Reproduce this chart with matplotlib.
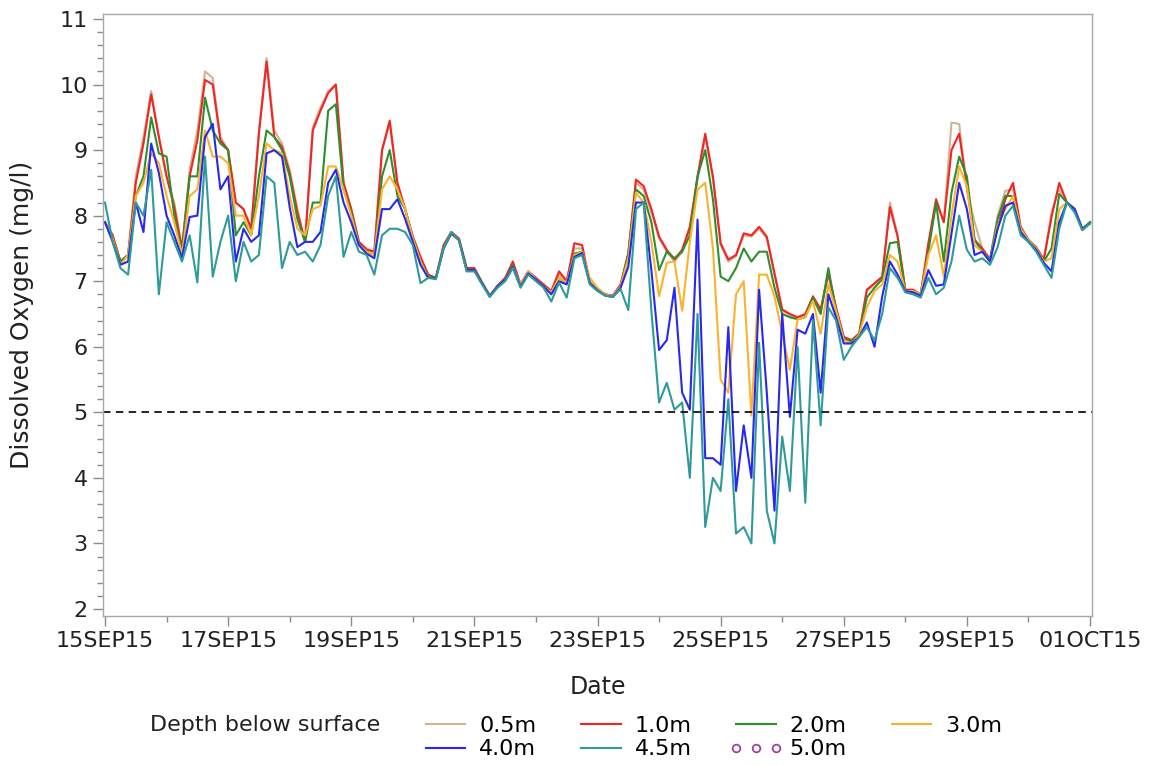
import numpy as np
import pandas as pd
import matplotlib
matplotlib.use('Agg')
import matplotlib.pyplot as plt
import matplotlib.dates as mdates
from matplotlib.ticker import MultipleLocator, FuncFormatter, FixedLocator

plt.rcParams['font.family'] = ['DejaVu Sans']

# readings every 3 hours, 15SEP15 00:00 -> 01OCT15 00:00
start = '2015-09-15 00:00'
n_points = 129

# one row per day (8 readings), last value = 01OCT15 00:00
do_05 = [
    7.9, 7.7, 7.3, 7.4, 8.6, 9.2, 9.9, 9.2,
    8.6, 8.2, 7.5, 8.7, 9.3, 10.2, 10.1, 9.2,
    9.0, 8.2, 8.1, 7.8, 9.3, 10.4, 9.3, 9.1,
    8.7, 8.1, 7.6, 9.35, 9.65, 9.9, 10.0, 8.5,
    8.1, 7.6, 7.5, 7.45, 9.0, 9.4, 8.5, 8.1,
    7.68, 7.35, 7.1, 7.05, 7.55, 7.75, 7.65, 7.2,
    7.2, 6.98, 6.78, 6.93, 7.05, 7.28, 6.95, 7.15,
    7.03, 6.93, 6.85, 7.1, 7.0, 7.5, 7.5, 6.98,
    6.87, 6.8, 6.77, 6.93, 7.4, 8.5, 8.4, 8.05,
    7.65, 7.45, 7.3, 7.45, 7.8, 8.55, 9.2, 8.55,
    7.55, 7.3, 7.38, 7.7, 7.68, 7.8, 7.65, 7.1,
    6.55, 6.48, 6.43, 6.48, 6.75, 6.55, 7.1, 6.58,
    6.15, 6.1, 6.2, 6.85, 6.95, 7.05, 8.2, 7.7,
    6.87, 6.85, 6.8, 7.55, 8.2, 7.9, 9.42, 9.4,
    8.4, 7.9, 7.5, 7.33, 8.0, 8.38, 8.4, 7.8,
    7.63, 7.5, 7.33, 8.05, 8.4, 8.2, 8.1, 7.78,
    7.9,
]
do_10 = [
    7.9, 7.7, 7.3, 7.4, 8.5, 9.1, 9.85, 9.2,
    8.6, 8.13, 7.5, 8.6, 9.15, 10.07, 10.0, 9.15,
    9.0, 8.2, 8.1, 7.8, 9.25, 10.35, 9.2, 9.05,
    8.65, 8.05, 7.6, 9.3, 9.6, 9.87, 10.0, 8.5,
    8.1, 7.6, 7.48, 7.45, 9.0, 9.45, 8.5, 8.1,
    7.68, 7.37, 7.1, 7.05, 7.55, 7.75, 7.65, 7.2,
    7.2, 6.98, 6.78, 6.93, 7.05, 7.3, 6.95, 7.15,
    7.05, 6.95, 6.85, 7.15, 7.0, 7.58, 7.55, 6.98,
    6.87, 6.8, 6.78, 6.95, 7.43, 8.55, 8.45, 8.1,
    7.68, 7.48, 7.33, 7.48, 7.83, 8.6, 9.25, 8.6,
    7.58, 7.33, 7.4, 7.73, 7.7, 7.83, 7.68, 7.12,
    6.57, 6.5, 6.45, 6.5, 6.77, 6.57, 7.12, 6.6,
    6.15, 6.1, 6.2, 6.87, 6.97, 7.07, 8.13, 7.68,
    6.87, 6.87, 6.8, 7.58, 8.25, 7.9, 9.0, 9.25,
    8.45, 7.63, 7.5, 7.33, 7.83, 8.25, 8.5, 7.83,
    7.63, 7.52, 7.33, 7.98, 8.5, 8.2, 8.1, 7.78,
    7.9,
]
do_20 = [
    7.9, 7.65, 7.3, 7.4, 8.3, 8.6, 9.5, 8.95,
    8.9, 8.0, 7.45, 8.6, 8.6, 9.8, 9.3, 9.1,
    9.0, 7.7, 7.9, 7.7, 8.6, 9.3, 9.2, 9.0,
    8.6, 7.95, 7.6, 8.2, 8.2, 9.6, 9.7, 8.4,
    8.05, 7.55, 7.45, 7.4, 8.6, 9.0, 8.3, 8.1,
    7.65, 7.3, 7.08, 7.05, 7.52, 7.73, 7.63, 7.17,
    7.18, 6.97, 6.77, 6.92, 7.03, 7.25, 6.93, 7.13,
    7.02, 6.92, 6.83, 7.05, 6.97, 7.42, 7.45, 6.97,
    6.86, 6.8, 6.77, 6.92, 7.42, 8.4, 8.3, 7.9,
    7.17, 7.45, 7.35, 7.45, 7.7, 8.6, 9.0, 8.25,
    7.07, 7.0, 7.2, 7.5, 7.3, 7.45, 7.45, 6.9,
    6.5, 6.45, 6.42, 6.45, 6.75, 6.5, 7.2, 6.55,
    6.12, 6.08, 6.18, 6.75, 6.9, 7.03, 7.58, 7.6,
    6.85, 6.85, 6.8, 7.45, 8.2, 7.3, 8.35, 8.9,
    8.6, 7.63, 7.45, 7.33, 7.95, 8.3, 8.3, 7.8,
    7.62, 7.5, 7.3, 7.5, 8.33, 8.2, 8.1, 7.8,
    7.9,
]
do_30 = [
    7.9, 7.65, 7.25, 7.4, 8.3, 8.5, 8.95, 8.8,
    8.3, 7.9, 7.4, 8.3, 8.4, 9.3, 8.9, 8.9,
    8.8, 8.0, 8.0, 7.7, 8.3, 9.1, 9.0, 8.95,
    8.3, 7.8, 7.7, 8.1, 8.15, 8.75, 8.75, 8.4,
    8.0, 7.55, 7.45, 7.4, 8.4, 8.6, 8.4, 8.1,
    7.65, 7.3, 7.05, 7.05, 7.5, 7.72, 7.62, 7.15,
    7.17, 6.97, 6.77, 6.92, 7.02, 7.22, 6.95, 7.15,
    7.02, 6.92, 6.83, 7.05, 6.98, 7.4, 7.45, 7.05,
    6.9, 6.8, 6.77, 6.92, 7.35, 8.35, 8.2, 7.6,
    6.77, 7.28, 7.3, 6.55, 7.6, 8.4, 8.5, 7.5,
    5.5, 5.3, 6.8, 7.0, 4.95, 7.1, 7.1, 6.77,
    6.2, 5.65, 6.42, 6.45, 6.7, 6.2, 6.95, 6.55,
    6.1, 6.05, 6.18, 6.6, 6.85, 6.95, 7.4, 7.3,
    6.85, 6.85, 6.8, 7.4, 7.7, 7.07, 8.0, 8.75,
    8.45, 7.55, 7.45, 7.3, 7.85, 8.1, 8.3, 7.8,
    7.62, 7.5, 7.3, 7.35, 8.1, 8.2, 8.1, 7.8,
    7.88,
]
do_40 = [
    7.9, 7.6, 7.25, 7.3, 8.2, 7.75, 9.1, 8.65,
    8.0, 7.7, 7.35, 7.98, 8.0, 9.2, 9.4, 8.4,
    8.6, 7.3, 7.8, 7.6, 7.7, 8.95, 9.0, 8.9,
    8.13, 7.52, 7.6, 7.6, 7.75, 8.5, 8.7, 8.2,
    7.9, 7.55, 7.42, 7.35, 8.1, 8.1, 8.25, 7.95,
    7.6, 7.25, 7.05, 7.05, 7.5, 7.73, 7.63, 7.17,
    7.17, 6.97, 6.77, 6.92, 7.02, 7.22, 6.92, 7.12,
    7.02, 6.92, 6.8, 7.0, 6.95, 7.37, 7.43, 6.97,
    6.86, 6.78, 6.76, 6.9, 7.22, 8.2, 8.2, 7.17,
    5.95, 6.1, 6.9, 5.3, 5.04, 7.94, 4.3, 4.3,
    4.2, 6.3, 3.8, 4.8, 4.0, 6.87, 5.3, 3.5,
    6.5, 4.93, 6.26, 6.2, 6.5, 5.3, 6.8, 6.45,
    6.05, 6.05, 6.15, 6.37, 6.0, 6.77, 7.3, 7.1,
    6.85, 6.83, 6.78, 7.17, 6.93, 6.95, 7.73, 8.5,
    8.1, 7.4, 7.45, 7.3, 7.8, 8.15, 8.2, 7.75,
    7.6, 7.48, 7.28, 7.15, 7.9, 8.2, 8.1, 7.8,
    7.88,
]
do_45 = [
    8.2, 7.6, 7.2, 7.1, 8.2, 8.0, 8.7, 6.8,
    7.9, 7.6, 7.3, 7.7, 6.98, 8.9, 7.07, 7.6,
    8.0, 7.0, 7.6, 7.3, 7.4, 8.6, 8.5, 7.2,
    7.6, 7.4, 7.45, 7.3, 7.55, 8.3, 8.6, 7.37,
    7.75, 7.45, 7.4, 7.1, 7.7, 7.8, 7.8, 7.75,
    7.55, 6.97, 7.05, 7.03, 7.5, 7.75, 7.63, 7.15,
    7.15, 6.95, 6.76, 6.9, 7.0, 7.2, 6.9, 7.1,
    7.0, 6.9, 6.69, 6.98, 6.75, 7.35, 7.4, 6.95,
    6.85, 6.78, 6.76, 6.88, 6.56, 8.1, 8.2, 6.55,
    5.15, 5.45, 5.04, 5.15, 4.0, 6.5, 3.25, 4.0,
    3.8, 5.2, 3.15, 3.25, 3.0, 6.06, 3.5, 3.0,
    4.63, 3.8, 6.0, 3.62, 6.4, 4.8, 6.6, 6.4,
    5.8, 6.0, 6.15, 6.3, 6.1, 6.5, 7.2, 7.05,
    6.83, 6.8, 6.75, 7.05, 6.8, 6.9, 7.3, 8.0,
    7.48, 7.3, 7.35, 7.25, 7.52, 8.0, 8.15, 7.7,
    7.6, 7.45, 7.25, 7.05, 7.8, 8.2, 8.05, 7.78,
    7.88,
]
do_50 = []  # no readings at 5.0m in this period

depths = ['0.5m', '1.0m', '2.0m', '3.0m', '4.0m', '4.5m']
series = [do_05, do_10, do_20, do_30, do_40, do_45]
colors = ['#CFB48F', '#F32424', '#2D8F2D', '#FDB22C', '#2828F0', '#2E9A9A']

times = pd.date_range(start, periods=n_points, freq='3h')

fig = plt.figure(figsize=(11.49, 7.65), dpi=100)
ax = fig.add_axes([103 / 1149, 1 - 616 / 765, 989 / 1149, 602 / 765])

handles = {}
for name, vals, c in zip(depths, series, colors):
    h, = ax.plot(times, vals, color=c, lw=1.5, label=name)
    handles[name] = h
h50, = ax.plot(times[:len(do_50)], do_50, ls='none', marker='o', mfc='none',
               mec='#A040A0', ms=5.5, mew=1.3, label='5.0m')
handles['5.0m'] = h50

ax.axhline(5, color='black', lw=1.2, ls=(0, (4.5, 3.2)))

t0 = mdates.date2num(pd.Timestamp('2015-09-15'))
ax.set_xlim(t0 - 0.0325, t0 + 16.0325)
ax.set_ylim(1.893, 11.076)

ax.xaxis.set_major_locator(FixedLocator([t0 + d for d in range(0, 17, 2)]))
ax.xaxis.set_minor_locator(FixedLocator([t0 + d for d in range(1, 16, 2)]))
ax.xaxis.set_major_formatter(FuncFormatter(lambda v, p: mdates.num2date(v).strftime('%d%b%y').upper()))
ax.yaxis.set_major_locator(MultipleLocator(1))
ax.yaxis.set_minor_locator(MultipleLocator(0.2))

for s in ax.spines.values():
    s.set_color('#A8A8A8')
    s.set_linewidth(1.0)
ax.tick_params(which='major', length=7, width=1, color='#8C8C8C', labelsize=16, pad=4, labelcolor='#222222')
ax.tick_params(which='minor', length=4, width=1, color='#8C8C8C')

ax.set_xlabel('Date', fontsize=17, labelpad=17, color='#222222')
ax.set_ylabel('Dissolved Oxygen (mg/l)', fontsize=18, labelpad=18, color='#222222')

fig.text(150 / 1149, 1 - 725 / 765, 'Depth below surface', fontsize=16, va='center', ha='left', color='#222222')
order = ['0.5m', '4.0m', '1.0m', '4.5m', '2.0m', '5.0m', '3.0m']
fig.legend([handles[k] for k in order], order, ncol=4, frameon=False,
           loc='upper left', bbox_to_anchor=(419 / 1149, 1 - 716 / 765),
           fontsize=16, handlelength=2.39, handletextpad=0.32, columnspacing=1.71,
           labelspacing=0.15, borderpad=0, borderaxespad=0, numpoints=3)

fig.savefig('out.png', dpi=100)
